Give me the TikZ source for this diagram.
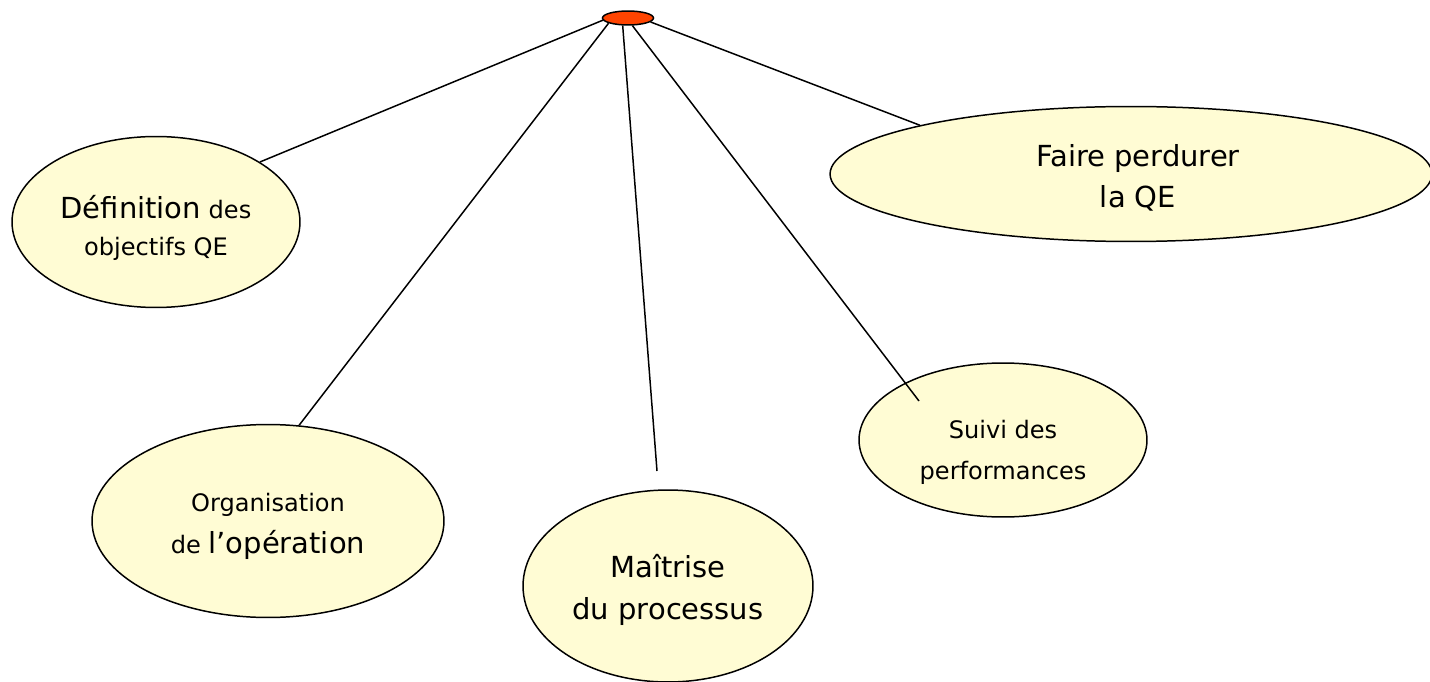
\documentclass[tikz,border=0pt]{standalone}
\usepackage{fontspec}
\setmainfont{DejaVu Sans}
\usetikzlibrary{shapes}

\newcommand{\bigsize}{\fontsize{16.5}{23}\selectfont}
\newcommand{\smallsize}{\fontsize{13.7}{23}\selectfont}

\begin{document}
\begin{tikzpicture}[x=0.02cm, y=-0.02cm,
        bubble/.style={draw, ellipse, fill=bubblecolor, line width=0.85pt, inner sep=0pt},
        txt/.style={align=center, inner sep=0pt},
        link/.style={line width=0.85pt}]
        % Define some colors for convenience
        \definecolor{bubblecolor}{RGB}{255,252,212} % bubble fill
        \definecolor{dotcolor}{RGB}{255,68,0} % top dot color

        % Page size
        \useasboundingbox (0,0) rectangle (1430,682);

        % Top dot
        \node[draw, ellipse, fill=dotcolor, line width=0.85pt, inner sep=0pt, minimum width=1.02cm, minimum height=0.28cm] (top) at (628,18) {};

        % Bubbles
        \node[bubble, minimum width=5.76cm, minimum height=3.42cm,
              label={[txt, font=\smallsize, yshift=-3.4pt]center:{{\bigsize Définition} des\\[-2pt] objectifs QE}}] (def) at (156,222) {}; % objectives
        \node[bubble, minimum width=7.04cm, minimum height=3.86cm,
              label={[txt, font=\smallsize, yshift=-3pt]center:{Organisation\\[1pt] de {\bigsize l’opération}}}] (org) at (268,521) {}; % organisation
        \node[bubble, minimum width=5.8cm, minimum height=3.84cm,
              label={[txt, font=\bigsize, yshift=-2.3pt]center:{Maîtrise\\[1pt] du processus}}] (mai) at (668,586) {}; % process
        \node[bubble, minimum width=5.76cm, minimum height=3.08cm,
              label={[txt, font=\smallsize, yshift=-7pt]center:{Suivi des\\ performances}}] (sui) at (1003,440) {}; % follow-up
        \node[bubble, minimum width=12.04cm, minimum height=2.7cm,
              label={[txt, font=\bigsize, xshift=4pt, yshift=-2.3pt]center:{Faire perdurer\\ la QE}}] (fai) at (1131,174) {}; % last

        % Free line ends
        \coordinate (maiend) at (657,471);
        \coordinate (suiend) at (919,401);

        % Links
        \draw[link] (top.185) -- (def.30);
        \draw[link] (top.195) -- (org.72);
        \draw[link] (top.235) -- (maiend);
        \draw[link] (top.300) -- (suiend);
        \draw[link] (top.350) -- (fai.167);
    \end{tikzpicture}
\end{document}
